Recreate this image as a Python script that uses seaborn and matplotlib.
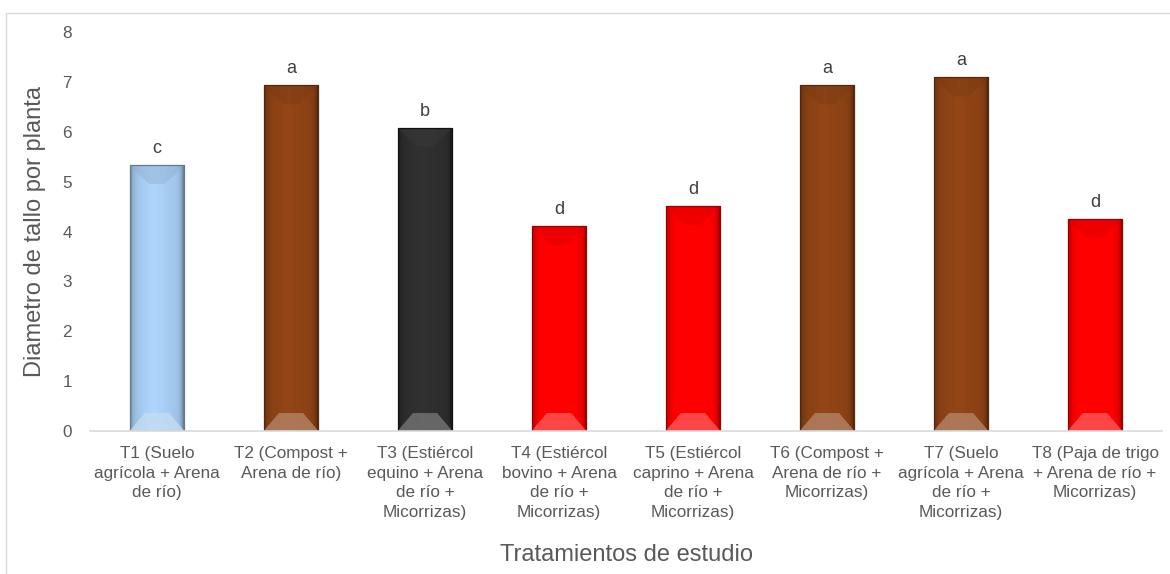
import numpy as np
import pandas as pd
import matplotlib
matplotlib.use("Agg")
import matplotlib.pyplot as plt
import seaborn as sns
from matplotlib.patches import Polygon, Rectangle
from matplotlib.colors import to_rgb

# Treatments, mean stem diameter per plant and significance letters
treatments = [
    "T1 (Suelo\nagrícola + Arena\nde río)",
    "T2 (Compost +\nArena de río)",
    "T3 (Estiércol\nequino + Arena\nde río +\nMicorrizas)",
    "T4 (Estiércol\nbovino + Arena\nde río +\nMicorrizas)",
    "T5 (Estiércol\ncaprino + Arena\nde río +\nMicorrizas)",
    "T6 (Compost +\nArena de río +\nMicorrizas)",
    "T7 (Suelo\nagrícola + Arena\nde río +\nMicorrizas)",
    "T8 (Paja de trigo\n+ Arena de río +\nMicorrizas)",
]
diametro = [5.33, 6.93, 6.07, 4.11, 4.51, 6.93, 7.09, 4.25]
letras = ["c", "a", "b", "d", "d", "a", "a", "d"]
bar_colors = ["#A4C9EE", "#8B4215", "#2B2B2B", "#FF0000",
              "#FF0000", "#8B4215", "#8B4215", "#FF0000"]

df = pd.DataFrame({"tratamiento": treatments, "diametro": diametro})

sns.set_theme(style="white")
plt.rcParams["font.family"] = ["Liberation Sans", "DejaVu Sans"]

W, H = 1170, 574
fig = plt.figure(figsize=(W / 100, H / 100), dpi=100)
ax = fig.add_axes([90 / W, 1 - 431 / H, 1072 / W, 399 / H])

sns.barplot(data=df, x="tratamiento", y="diametro", hue="tratamiento",
            palette=bar_colors, width=0.41, saturation=1, legend=False,
            ax=ax, zorder=2)


def shade(c, f):
    r = np.clip(np.array(to_rgb(c)) * f, 0, 1)
    return tuple(r)


def lighten(c, t):
    r = np.array(to_rgb(c))
    return tuple(r + (1 - r) * t)


# Bevelled look: side shading plus top/bottom facets on each bar
prof = np.linspace(0, 1, 80)
factor = 1.0 - 0.30 * np.exp(-prof / 0.06) - 0.55 * np.exp(-(1 - prof) / 0.05)
factor += 0.06 * np.exp(-((prof - 0.45) / 0.2) ** 2)
for patch, col in zip(ax.patches, bar_colors):
    x0, w, h = patch.get_x(), patch.get_width(), patch.get_height()
    base = np.array(to_rgb(col))
    if col == "#2B2B2B":
        img = np.clip(base[None, :] * factor[:, None] + 0.03 * (factor[:, None] - 0.7), 0, 1)
    else:
        img = np.clip(base[None, :] * factor[:, None], 0, 1)
    img = img[None, :, :]
    im = ax.imshow(img, extent=[x0, x0 + w, 0, h], aspect="auto",
                   interpolation="bilinear", zorder=2.1)
    im.set_clip_path(patch)
    dt, db = 0.38, 0.36
    top = Polygon([(x0, h), (x0 + w, h), (x0 + 0.64 * w, h - dt),
                   (x0 + 0.36 * w, h - dt)], closed=True,
                  facecolor=shade(col, 0.85) if col != "#2B2B2B" else lighten(col, 0.08),
                  edgecolor="none", alpha=0.4, zorder=2.2)
    bot = Polygon([(x0, 0), (x0 + w, 0), (x0 + 0.72 * w, db),
                   (x0 + 0.28 * w, db)], closed=True,
                  facecolor=lighten(col, 0.35), edgecolor="none",
                  alpha=0.8, zorder=2.2)
    ax.add_patch(top)
    ax.add_patch(bot)
    outline = Rectangle((x0, 0), w, h, facecolor="none",
                        edgecolor=shade(col, 0.6) if col != "#2B2B2B" else "#111111",
                        linewidth=0.9, zorder=2.3)
    ax.add_patch(outline)

for i, (v, t) in enumerate(zip(diametro, letras)):
    ax.annotate(t, (i, v), xytext=(0, 6), textcoords="offset points",
                ha="center", va="bottom", fontsize=13, color="#404040")

ax.set_xlim(-0.5, len(treatments) - 0.5)
ax.set_ylim(0, 8)
ax.set_yticks(range(0, 9))
for s in ["left", "top", "right"]:
    ax.spines[s].set_visible(False)
ax.spines["bottom"].set_color("#D9D9D9")
ax.spines["bottom"].set_linewidth(1.2)
ax.tick_params(axis="both", length=0, colors="#595959", labelsize=12.3)
ax.tick_params(axis="y", pad=13)
ax.tick_params(axis="x", pad=11)
for lbl in ax.get_xticklabels():
    lbl.set_linespacing(1.38)
ax.set_xlabel("Tratamientos de estudio", fontsize=17, color="#595959", labelpad=17)
ax.set_ylabel("Diametro de tallo por planta", fontsize=17, color="#595959", labelpad=12)
ax.grid(False)

# Light chart-area frame
fig.patches.append(Rectangle((6 / W, -0.2), 1.2, 1 - 13 / H + 0.2,
                             transform=fig.transFigure, facecolor="none",
                             edgecolor="#D9D9D9", linewidth=1.0, zorder=0))

fig.savefig("out.png", dpi=100)
